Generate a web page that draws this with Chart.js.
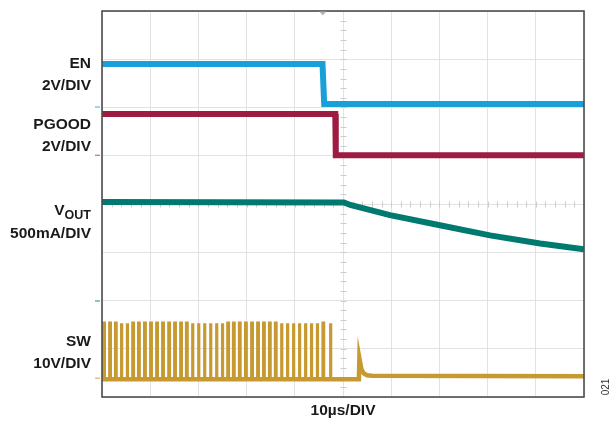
<!DOCTYPE html>
<html><head><meta charset="utf-8">
<script src="https://cdn.jsdelivr.net/npm/chart.js@4"></script>
<style>html,body{margin:0;padding:0;background:#fff}#wrap{width:610px;height:426px;position:relative}</style>
</head><body>
<div id="wrap"><canvas id="c"></canvas></div>
<script>
// Time in µs (10 µs/DIV, 10 divisions); level in screen divisions from bottom (8 divisions)
const enTimes   = [0, 45.75, 46.1, 100];
const enLevels  = [6.90, 6.90, 6.07, 6.07];

const pgTimes   = [0, 48.4, 48.5, 100];
const pgLevels  = [5.865, 5.865, 5.01, 5.01];

const voutTimes  = [0, 50.2, 51.5, 59.75, 70.1, 80.5, 90.9, 100];
const voutLevels = [4.04, 4.03, 3.98, 3.77, 3.56, 3.35, 3.18, 3.06];

// SW: rising edges of the switching pulses (µs)
const swPulseStarts = [0.35, 1.60, 2.80, 3.98, 5.19, 6.39, 7.59, 8.84, 10.10, 11.35,
  12.59, 13.86, 15.08, 16.33, 17.53, 18.73, 19.98, 21.22, 22.47, 23.71,
  24.92, 26.10, 27.28, 28.51, 29.79, 31.06, 32.30, 33.53, 34.75, 35.98,
  37.20, 38.42, 39.67, 40.91, 42.16, 43.38, 44.61, 45.85, 47.35];
const swPulseHigh  = 1.53;
const swPulseLow   = 0.37;
const swPulseWidth = 0.14;
const swBaseTimes  = [0, 53.3, 53.4, 53.8, 54.3, 55.0, 56.0, 100];
const swBaseLevels = [0.37, 0.37, 0.80, 0.58, 0.49, 0.45, 0.44, 0.43];

// channel ground markers (divisions) and trigger position (µs)
const groundLevels = [6.01, 5.01, 1.99, 0.39];
const triggerTime = 45.8;

const colEN = '#1aa0d8', colPG = '#9c1c42', colVO = '#007a6f', colSW = '#c69a30';
const groundColors = ['#5bbde6', '#c86a85', '#3aa69b', '#d9b35e'];

const pts = (t, v) => t.map((x, i) => ({x: x, y: v[i]}));
const swPulsePts = [];
swPulseStarts.forEach(t => {
  swPulsePts.push({x: t, y: swPulseLow}, {x: t, y: swPulseHigh},
                  {x: t + swPulseWidth, y: swPulseHigh}, {x: t + swPulseWidth, y: swPulseLow});
});

const deco = {
  id: 'deco',
  beforeDatasetsDraw(chart) {
    const {ctx, chartArea: a, scales: {x, y}} = chart;
    ctx.save();
    ctx.strokeStyle = '#cdcdcd'; ctx.lineWidth = 1;
    const cx = Math.round(x.getPixelForValue(50)) + 0.5;
    const cy = Math.round(y.getPixelForValue(4)) + 0.5;
    ctx.beginPath();
    for (let d = 0; d <= 8.001; d += 0.2) {
      const py = Math.round(y.getPixelForValue(d)) + 0.5;
      ctx.moveTo(cx - 3, py); ctx.lineTo(cx + 3, py);
    }
    for (let t = 0; t <= 100.001; t += 2) {
      const px = Math.round(x.getPixelForValue(t)) + 0.5;
      ctx.moveTo(px, cy - 3); ctx.lineTo(px, cy + 3);
    }
    ctx.stroke();
    ctx.restore();
  },
  afterDraw(chart) {
    const {ctx, chartArea: a, scales: {x, y}} = chart;
    ctx.save();
    // frame
    ctx.strokeStyle = '#4d4d4d'; ctx.lineWidth = 1.6;
    ctx.strokeRect(a.left, a.top, a.right - a.left, a.bottom - a.top);
    // ground markers
    ctx.lineWidth = 1.2;
    groundLevels.forEach((g, i) => {
      const py = y.getPixelForValue(g);
      ctx.strokeStyle = groundColors[i];
      ctx.beginPath(); ctx.moveTo(a.left - 7, py); ctx.lineTo(a.left - 2, py); ctx.stroke();
    });
    // trigger marker
    const tx = x.getPixelForValue(triggerTime);
    ctx.fillStyle = '#b4b4b4';
    ctx.beginPath(); ctx.moveTo(tx - 3.5, a.top + 0.5); ctx.lineTo(tx + 3.5, a.top + 0.5); ctx.lineTo(tx, a.top + 4.5); ctx.closePath(); ctx.fill();
    // labels
    ctx.fillStyle = '#1a1a1a';
    ctx.textAlign = 'right'; ctx.textBaseline = 'middle';
    const F = 'bold 15.5px "Liberation Sans", Arial, sans-serif';
    ctx.font = F;
    const R = 91;
    ctx.fillText('EN', R, 64);
    ctx.fillText('2V/DIV', R, 86);
    ctx.fillText('PGOOD', R, 125);
    ctx.fillText('2V/DIV', R, 146.5);
    ctx.fillText('500mA/DIV', R, 233.5);
    ctx.fillText('SW', R, 342);
    ctx.fillText('10V/DIV', R, 363.5);
    // V_OUT with subscript
    ctx.font = 'bold 12.5px "Liberation Sans", Arial, sans-serif';
    const subW = ctx.measureText('OUT').width;
    ctx.fillText('OUT', R, 216);
    ctx.font = F;
    ctx.fillText('V', R - subW, 211);
    // x-axis label
    ctx.textAlign = 'center';
    ctx.fillText('10µs/DIV', x.getPixelForValue(50), 411);
    // figure number
    ctx.font = '10px "Liberation Sans", Arial, sans-serif';
    ctx.fillStyle = '#333';
    ctx.translate(606.5, 387);
    ctx.rotate(-Math.PI / 2);
    ctx.fillText('021', 0, 0);
    ctx.restore();
  }
};

Chart.defaults.animation = false;
new Chart(document.getElementById('c'), {
  type: 'line',
  data: {
    datasets: [
      {label: 'SW', data: swPulsePts, borderColor: colSW, borderWidth: 3.2, borderJoinStyle: 'miter'},
      {label: 'SW base', data: pts(swBaseTimes, swBaseLevels), borderColor: colSW, borderWidth: 4.5},
      {label: 'VOUT', data: pts(voutTimes, voutLevels), borderColor: colVO, borderWidth: 6},
      {label: 'PGOOD', data: pts(pgTimes, pgLevels), borderColor: colPG, borderWidth: 6},
      {label: 'EN', data: pts(enTimes, enLevels), borderColor: colEN, borderWidth: 6}
    ]
  },
  options: {
    responsive: true, maintainAspectRatio: false,
    layout: {padding: {left: 102, right: 26, top: 11, bottom: 29}},
    elements: {point: {radius: 0, hoverRadius: 0}, line: {tension: 0, fill: false, borderCapStyle: 'butt'}},
    plugins: {legend: {display: false}, tooltip: {enabled: false}},
    events: [],
    scales: {
      x: {type: 'linear', min: 0, max: 100, ticks: {display: false, stepSize: 10},
          grid: {color: '#e2e2e2', lineWidth: 1, drawTicks: false}, border: {display: false}},
      y: {type: 'linear', min: 0, max: 8, ticks: {display: false, stepSize: 1},
          grid: {color: '#e2e2e2', lineWidth: 1, drawTicks: false}, border: {display: false}}
    }
  },
  plugins: [deco]
});
</script>
</body></html>
